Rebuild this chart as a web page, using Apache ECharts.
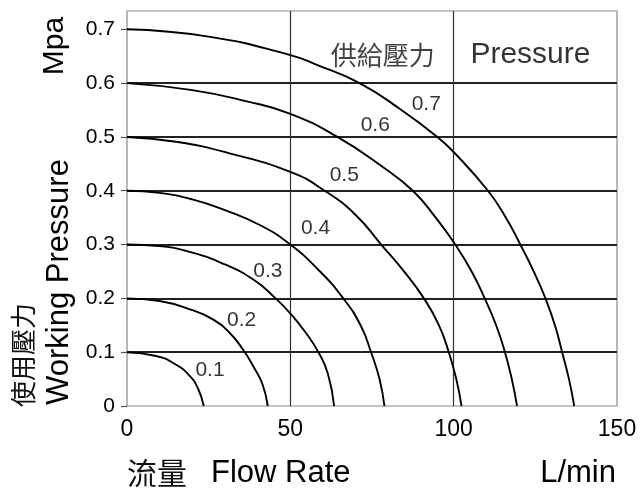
<!DOCTYPE html>
<html>
<head>
<meta charset="utf-8">
<script src="https://cdn.jsdelivr.net/npm/echarts@6.0.0/dist/echarts.min.js"></script>
<style>
  html, body { margin: 0; padding: 0; background: #fff; }
  #chart { width: 644px; height: 493px; }
</style>
</head>
<body>
<div id="chart"></div>
<script>
// ---- data (flow rate L/min, pressure MPa) ----
const xTicks = [0, 50, 100, 150];
const yTicks = [0, 0.1, 0.2, 0.3, 0.4, 0.5, 0.6, 0.7];
const supplyPressures = ['0.1', '0.2', '0.3', '0.4', '0.5', '0.6', '0.7'];

const flow01 = [0, 8.9, 14.4, 18.9, 21.7, 23.5];
const pres01 = [0.1, 0.093, 0.079, 0.058, 0.033, 0];

const flow02 = [0, 10, 20, 26, 31.1, 35.5, 39, 41.5, 43.1];
const pres02 = [0.2, 0.195, 0.178, 0.162, 0.138, 0.105, 0.07, 0.04, 0];

const flow03 = [0, 10, 20, 30, 38.9, 45.5, 50, 54.5, 58.6, 61.5, 63.4];
const pres03 = [0.3, 0.297, 0.285, 0.263, 0.234, 0.2, 0.172, 0.138, 0.1, 0.06, 0];

const flow04 = [0, 10, 20, 30, 41.1, 50, 58.6, 66.2, 71.5, 74.7, 77.3, 78.8];
const pres04 = [0.4, 0.396, 0.384, 0.364, 0.335, 0.3, 0.253, 0.2, 0.15, 0.1, 0.05, 0];

const flow05 = [0, 15, 31.1, 50, 60.5, 70, 77.8, 84.8, 90.9, 95.5, 98.5, 100.8, 102.4];
const pres05 = [0.5, 0.491, 0.47, 0.435, 0.4, 0.355, 0.3, 0.25, 0.2, 0.15, 0.1, 0.05, 0];

const flow06 = [0, 20, 36.7, 50, 64.4, 78.3, 87.5, 94.5, 100.5, 105.5, 109.5, 113, 115.7, 117.8, 119.4];
const pres06 = [0.6, 0.587, 0.566, 0.543, 0.5, 0.444, 0.4, 0.35, 0.3, 0.25, 0.2, 0.15, 0.1, 0.05, 0];

const flow07 = [0, 25.5, 50, 58.1, 71.2, 84, 95, 100, 110.5, 116, 120.4, 124.5, 128.1, 131, 133.2, 135.3, 136.9];
const pres07 = [0.7, 0.686, 0.652, 0.634, 0.6, 0.55, 0.5, 0.472, 0.4, 0.35, 0.3, 0.25, 0.2, 0.15, 0.1, 0.05, 0];

// label anchor points for the curve captions (data coordinates)
const captionFlow = [25.4, 35.1, 43.1, 57.7, 66.5, 76.0, 91.6];
const captionPres = [0.067, 0.160, 0.251, 0.330, 0.429, 0.522, 0.561];

// ---- build ----
const flows = [flow01, flow02, flow03, flow04, flow05, flow06, flow07];
const press = [pres01, pres02, pres03, pres04, pres05, pres06, pres07];

const FONT = '"Liberation Sans", Arial, Helvetica, sans-serif';
const CJK = '"Noto Sans CJK TC", "Noto Sans CJK JP", sans-serif';

const series = flows.map((fx, i) => ({
  type: 'line',
  name: supplyPressures[i],
  data: fx.map((x, j) => [x, press[i][j]]),
  smooth: 0.5,
  showSymbol: false,
  symbol: 'none',
  lineStyle: { color: '#000', width: 1.9 },
  silent: true,
  z: 3
}));

series.push({
  type: 'scatter',
  name: 'captions',
  symbolSize: 1,
  itemStyle: { color: 'rgba(0,0,0,0)' },
  silent: true,
  z: 4,
  label: {
    show: true,
    position: 'inside',
    formatter: p => p.name,
    fontFamily: FONT,
    fontSize: 21,
    color: '#000'
  },
  data: supplyPressures.map((s, i) => ({ name: s, value: [captionFlow[i], captionPres[i]] }))
    .concat([
      { name: '供給壓力', value: [94.4, 0.652],
        label: { position: 'left', distance: 0, fontFamily: CJK, fontSize: 26, color: '#111' } },
      { name: 'Pressure', value: [123.5, 0.652],
        label: { position: 'inside', fontFamily: FONT, fontSize: 30, color: '#000' } }
    ])
});

const chart = echarts.init(document.getElementById('chart'), null, { renderer: 'canvas' });
chart.setOption({
  backgroundColor: '#fff',
  animation: false,
  grid: {
    left: 127, right: 27, top: 11, bottom: 87,
    show: true, borderColor: '#8a8a8a', borderWidth: 1.2, backgroundColor: 'transparent'
  },
  xAxis: {
    type: 'value', min: 0, max: 150, interval: 50,
    axisLine: { show: false },
    axisTick: { show: false },
    axisLabel: {
      customValues: xTicks,
      fontFamily: FONT, fontSize: 23, color: '#000', margin: 12,
      showMinLabel: true, showMaxLabel: true
    },
    splitLine: { show: true, showMinLine: false, showMaxLine: false,
      lineStyle: { color: '#333', width: 1.2 } }
  },
  yAxis: {
    type: 'value', min: 0, max: 0.734, interval: 0.1,
    axisLine: { show: false },
    axisTick: { show: true, customValues: yTicks, length: 6, inside: false,
      lineStyle: { color: '#555', width: 1.2 } },
    axisLabel: {
      customValues: yTicks,
      formatter: v => (v === 0 ? '0' : v.toFixed(1)),
      fontFamily: FONT, fontSize: 21, color: '#000', margin: 12
    },
    splitLine: { show: true, showMinLine: false, showMaxLine: false,
      lineStyle: { color: '#222', width: 1.8 } }
  },
  graphic: [
    { type: 'text', x: 55, y: 46, rotation: Math.PI / 2,
      style: { text: 'Mpa', font: '30px ' + FONT, fill: '#000', align: 'center', verticalAlign: 'middle' } },
    { type: 'text', x: 59, y: 282, rotation: Math.PI / 2,
      style: { text: 'Working Pressure', font: '31px ' + FONT, fill: '#000', align: 'center', verticalAlign: 'middle' } },
    { type: 'text', x: 23, y: 355, rotation: Math.PI / 2,
      style: { text: '使用壓力', font: '26px ' + CJK, fill: '#111', align: 'center', verticalAlign: 'middle' } },
    { type: 'text', x: 127, y: 473,
      style: { text: '流量', font: '30px ' + CJK, fill: '#111', align: 'left', verticalAlign: 'middle' } },
    { type: 'text', x: 211, y: 473,
      style: { text: 'Flow Rate', font: '31px ' + FONT, fill: '#000', align: 'left', verticalAlign: 'middle' } },
    { type: 'text', x: 616, y: 473,
      style: { text: 'L/min', font: '31px ' + FONT, fill: '#000', align: 'right', verticalAlign: 'middle' } }
  ],
  series: series
});
</script>
</body>
</html>
